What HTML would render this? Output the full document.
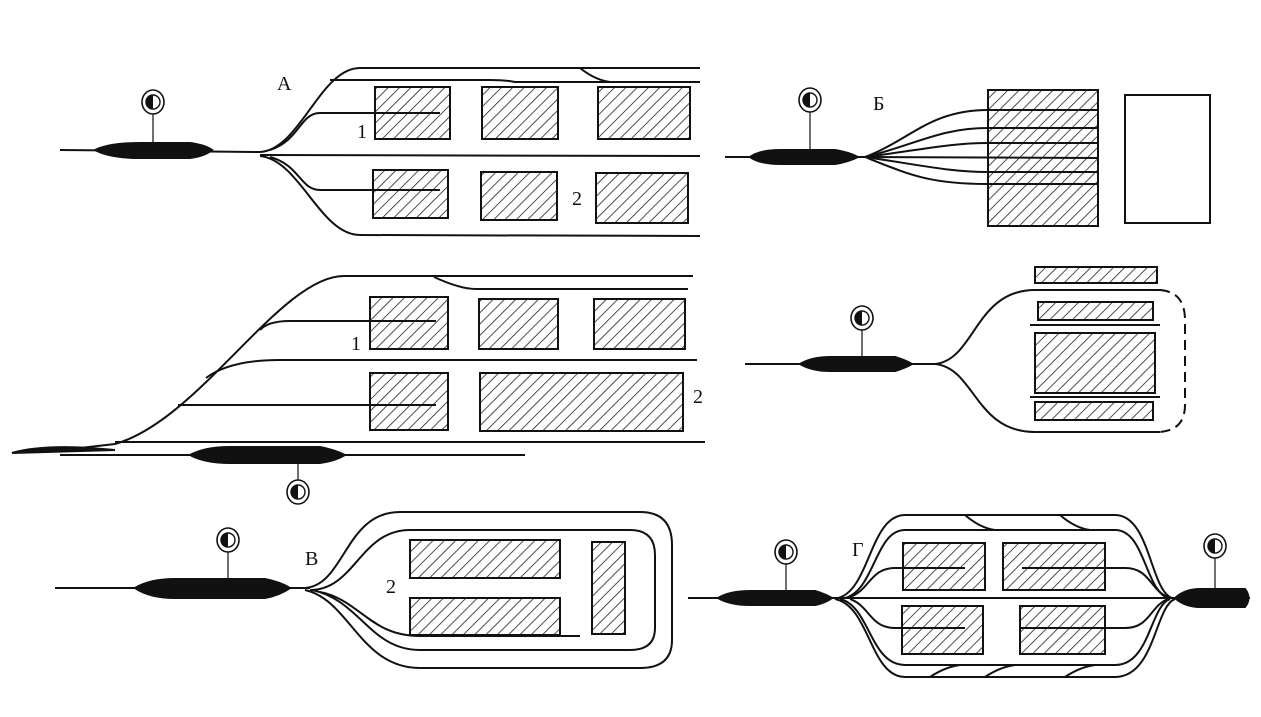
<!DOCTYPE html>
<html><head><meta charset="utf-8"><style>
html,body{margin:0;padding:0;background:#fff;}
svg{display:block;}
text{font-family:"Liberation Serif","DejaVu Serif",serif;fill:#111;}
</style></head><body>
<svg width="1261" height="717" viewBox="0 0 1261 717" xmlns="http://www.w3.org/2000/svg">
<defs>
<pattern id="h" patternUnits="userSpaceOnUse" width="8" height="8" patternTransform="rotate(45)">
<rect width="8" height="8" fill="#fff"/><line x1="0" y1="0" x2="0" y2="8" stroke="#222" stroke-width="1.6"/>
</pattern>
<g id="sig"><ellipse cx="0" cy="0" rx="11" ry="12" fill="#fff" stroke="#111" stroke-width="1.6"/><circle r="7" fill="#fff" stroke="#111" stroke-width="1.4"/><path d="M0,-7 A7,7 0 0 0 0,7 Z" fill="#111"/></g>
</defs>
<g fill="none" stroke="#111" stroke-width="2">

<!-- A -->
<line x1="153" y1="112" x2="153" y2="145" stroke-width="1.2"/>
<line x1="60" y1="150" x2="260" y2="152"/>
<path d="M95,150 Q110,143 140,143 L190,143 Q205,145 212,150 Q205,156 190,158 L140,158 Q110,158 95,150Z" fill="#111"/>
<path d="M260,152 C300,150 320,68 360,68 L700,68"/>
<path d="M330,80 L490,80 Q505,80 515,82 L700,82"/>
<path d="M580,68 Q595,80 610,82"/>
<path d="M270,150 C300,140 300,113 320,113 L440,113"/>
<line x1="260" y1="155" x2="700" y2="156"/>
<path d="M270,157 C300,165 300,190 320,190 L440,190"/>
<path d="M260,156 C300,160 320,235 360,235 L700,236"/>
<rect x="375" y="87" width="75" height="52" fill="url(#h)"/>
<rect x="482" y="87" width="76" height="52" fill="url(#h)"/>
<rect x="598" y="87" width="92" height="52" fill="url(#h)"/>
<rect x="373" y="170" width="75" height="48" fill="url(#h)"/>
<rect x="481" y="172" width="76" height="48" fill="url(#h)"/>
<rect x="596" y="173" width="92" height="50" fill="url(#h)"/>
<line x1="320" y1="113" x2="440" y2="113"/>
<line x1="320" y1="190" x2="440" y2="190"/>

<!-- Б -->
<line x1="810" y1="110" x2="810" y2="150" stroke-width="1.2"/>
<line x1="725" y1="157" x2="870" y2="157"/>
<path d="M750,157 Q760,150 780,150 L835,150 Q848,152 858,157 Q848,162 835,164 L780,164 Q760,164 750,157Z" fill="#111"/>
<rect x="988" y="90" width="110" height="136" fill="url(#h)"/>
<path d="M865,157 C910,140 930,110 988,110 L1097,110"/>
<path d="M865,157 C915,145 940,128 988,128 L1097,128"/>
<path d="M865,157 C920,150 950,143 988,143 L1097,143"/>
<path d="M865,157 L1097,158"/>
<path d="M865,157 C920,165 950,172 988,172 L1097,172"/>
<path d="M865,157 C910,175 930,184 988,184 L1097,184"/>
<rect x="1125" y="95" width="85" height="128"/>

<!-- middle-left -->
<line x1="298" y1="456" x2="298" y2="482" stroke-width="1.2"/>
<path d="M12,453 Q40,446 80,448 L115,444 C200,420 280,276 344,276 L693,276"/>
<path d="M434,277 Q460,289 476,289 L688,289"/>
<path d="M260,330 Q268,321 290,321 L436,321"/>
<path d="M206,378 Q230,360 280,360 L697,360"/>
<path d="M178,405 L436,405"/>
<path d="M115,442 L705,442"/>
<line x1="60" y1="455" x2="525" y2="455"/>
<path d="M12,453 Q40,445 90,448 L115,450 Z" fill="#111"/>
<path d="M190,455 Q205,447 230,447 L320,447 Q335,450 345,455 Q335,461 320,463 L230,463 Q205,463 190,455Z" fill="#111"/>
<rect x="370" y="297" width="78" height="52" fill="url(#h)"/>
<rect x="479" y="299" width="79" height="50" fill="url(#h)"/>
<rect x="594" y="299" width="91" height="50" fill="url(#h)"/>
<rect x="370" y="373" width="78" height="57" fill="url(#h)"/>
<rect x="480" y="373" width="203" height="58" fill="url(#h)"/>
<line x1="290" y1="321" x2="436" y2="321"/>
<line x1="178" y1="405" x2="436" y2="405"/>

<!-- middle-right -->
<line x1="862" y1="328" x2="862" y2="360" stroke-width="1.2"/>
<line x1="745" y1="364" x2="935" y2="364"/>
<path d="M800,364 Q812,357 830,357 L895,357 Q905,360 912,364 Q905,368 895,371 L830,371 Q812,371 800,364Z" fill="#111"/>
<path d="M935,364 C975,360 975,290 1035,290 L1160,290"/>
<path d="M935,364 C975,368 975,432 1035,432 L1160,432"/>
<path d="M1160,290 Q1185,292 1185,320 L1185,405 Q1185,430 1160,432" stroke-dasharray="10,6"/>
<line x1="1030" y1="325" x2="1160" y2="325"/>
<line x1="1030" y1="397" x2="1160" y2="397"/>
<rect x="1035" y="267" width="122" height="16" fill="url(#h)"/>
<rect x="1038" y="302" width="115" height="18" fill="url(#h)"/>
<rect x="1035" y="333" width="120" height="60" fill="url(#h)"/>
<rect x="1035" y="402" width="118" height="18" fill="url(#h)"/>

<!-- В -->
<line x1="228" y1="550" x2="228" y2="582" stroke-width="1.2"/>
<line x1="55" y1="588" x2="310" y2="588"/>
<path d="M135,588 Q150,579 175,579 L265,579 Q280,582 290,588 Q280,595 265,598 L175,598 Q150,598 135,588Z" fill="#111"/>
<path d="M305,588 C345,585 345,512 400,512 L640,512 Q672,512 672,545 L672,640 Q672,668 640,668 L420,668 C360,668 350,600 305,590"/>
<path d="M310,590 C355,590 360,530 410,530 L630,530 Q655,530 655,555 L655,628 Q655,650 630,650 L420,650 C370,650 360,600 312,590"/>
<path d="M320,592 C360,600 370,636 420,636 L580,636"/>
<rect x="410" y="540" width="150" height="38" fill="url(#h)"/>
<rect x="410" y="598" width="150" height="37" fill="url(#h)"/>
<rect x="592" y="542" width="33" height="92" fill="url(#h)"/>

<!-- Г -->
<line x1="786" y1="562" x2="786" y2="592" stroke-width="1.2"/>
<line x1="1215" y1="556" x2="1215" y2="590" stroke-width="1.2"/>
<line x1="688" y1="598" x2="1250" y2="598"/>
<path d="M718,598 Q730,591 750,591 L815,591 Q825,594 832,598 Q825,603 815,605 L750,605 Q730,605 718,598Z" fill="#111"/>
<path d="M1175,598 Q1185,589 1200,589 L1245,589 Q1252,598 1245,607 L1200,607 Q1185,607 1175,598Z" fill="#111"/>
<path d="M838,598 C870,590 870,515 905,515 L1115,515 C1150,515 1150,590 1172,598"/>
<path d="M845,598 C875,590 875,530 905,530 L1115,530 C1145,530 1145,590 1168,598"/>
<path d="M850,597 C870,590 870,568 895,568 L965,568"/>
<path d="M1022,568 L1125,568 C1150,568 1150,590 1168,597"/>
<path d="M850,599 C870,606 870,628 895,628 L965,628"/>
<path d="M1020,628 L1125,628 C1150,628 1150,606 1168,599"/>
<path d="M840,599 C870,606 870,665 905,665 L1115,665 C1150,665 1150,606 1170,599"/>
<path d="M835,599 C870,606 870,677 905,677 L1115,677 C1155,677 1155,606 1175,599"/>
<path d="M965,515 Q980,528 995,530 M1060,515 Q1075,528 1090,530 M930,677 Q945,667 960,665 M985,677 Q1000,667 1015,665 M1065,677 Q1080,667 1095,665"/>
<rect x="903" y="543" width="82" height="47" fill="url(#h)"/>
<rect x="1003" y="543" width="102" height="47" fill="url(#h)"/>
<rect x="902" y="606" width="81" height="48" fill="url(#h)"/>
<rect x="1020" y="606" width="85" height="48" fill="url(#h)"/>
<line x1="895" y1="568" x2="965" y2="568"/>
<line x1="1022" y1="568" x2="1105" y2="568"/>
<line x1="895" y1="628" x2="965" y2="628"/>
<line x1="1020" y1="628" x2="1105" y2="628"/>
</g>

<use href="#sig" x="153" y="102"/>
<use href="#sig" x="810" y="100"/>
<use href="#sig" x="298" y="492"/>
<use href="#sig" x="862" y="318"/>
<use href="#sig" x="228" y="540"/>
<use href="#sig" x="786" y="552"/>
<use href="#sig" x="1215" y="546"/>

<g font-size="20">
<text x="277" y="90">А</text>
<text x="357" y="138">1</text>
<text x="572" y="205">2</text>
<text x="873" y="110">Б</text>
<text x="351" y="350">1</text>
<text x="693" y="403">2</text>
<text x="305" y="565">В</text>
<text x="386" y="593">2</text>
<text x="852" y="556">Г</text>
</g>
</svg>
</body></html>
